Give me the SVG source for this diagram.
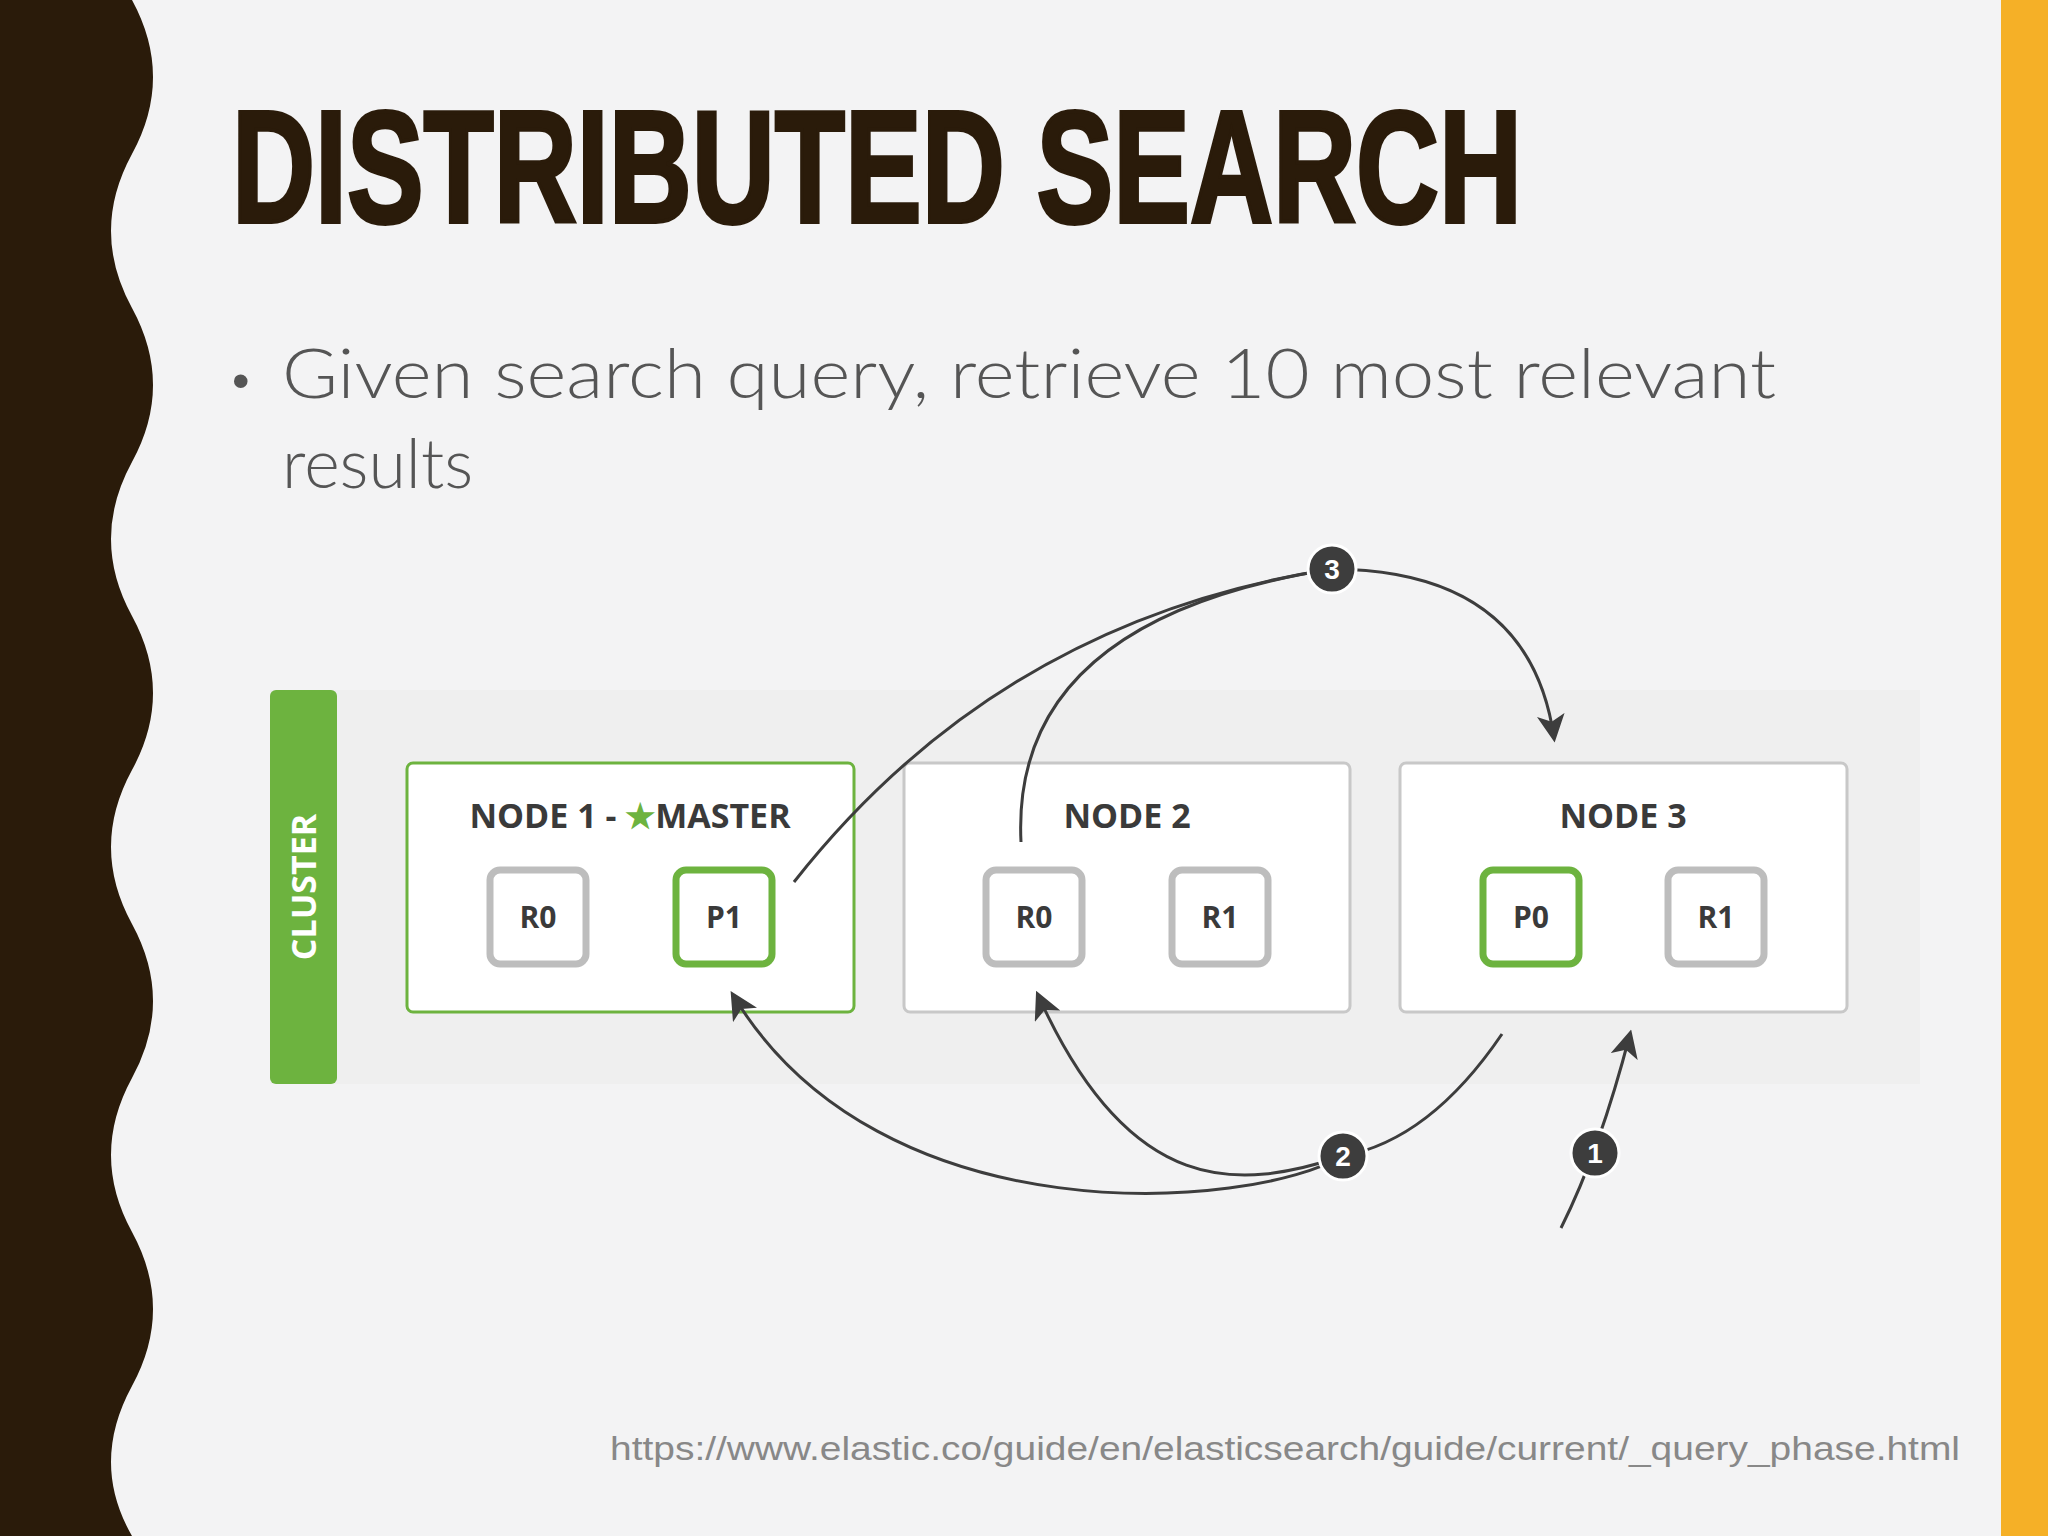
<svg xmlns="http://www.w3.org/2000/svg" width="2048" height="1536" viewBox="0 0 2048 1536">
<defs>
<style>
.node{fill:#fff;stroke:#c8c8c8;stroke-width:3}
.lbl{font-family:"Open Sans","Liberation Sans",sans-serif;font-weight:bold;font-size:34px;fill:#3a3a3a;text-anchor:middle}
.sh{fill:#fff;stroke:#bdbdbd;stroke-width:7}
.shp{fill:#fff;stroke:#6db33f;stroke-width:7}
.st{font-family:"Open Sans","Liberation Sans",sans-serif;font-weight:bold;font-size:30px;fill:#3a3a3a;text-anchor:middle}
.c{fill:none;stroke:#3d3d3d;stroke-width:3}
.num{font-family:"Liberation Sans",sans-serif;font-weight:bold;font-size:28px;fill:#fff;text-anchor:middle}
</style>
<marker id="ah" viewBox="0 0 12 12" refX="10" refY="6" markerWidth="28" markerHeight="28" orient="auto" markerUnits="userSpaceOnUse"><path d="M0,0 L12,6 L0,12 L3,6 Z" fill="#3d3d3d"/></marker>
</defs>
<rect width="2048" height="1536" fill="#f3f3f4"/>
<rect x="2001" y="0" width="47" height="1536" fill="#f5b027"/>
<path d="M0,0 H132 Q174,77 132,154 Q90,231 132,308 Q174,385 132,462 Q90,539 132,616 Q174,693 132,770 Q90,847 132,924 Q174,1001 132,1078 Q90,1155 132,1232 Q174,1309 132,1386 Q90,1463 132,1536 H0 Z" fill="#2a1b0a"/>
<text x="232" y="222" font-family="Liberation Sans,sans-serif" font-weight="bold" font-size="160" fill="#2a1b0a" stroke="#2a1b0a" stroke-width="4" textLength="1290" lengthAdjust="spacingAndGlyphs">DISTRIBUTED SEARCH</text>
<text x="232" y="398" font-family="Liberation Sans,sans-serif" font-size="50" fill="#555">•</text>
<text x="282" y="398" font-family="Lato,Liberation Sans,sans-serif" font-weight="300" font-size="68" fill="#555" textLength="1494" lengthAdjust="spacingAndGlyphs">Given search query, retrieve 10 most relevant</text>
<text x="282" y="488" font-family="Lato,Liberation Sans,sans-serif" font-weight="300" font-size="68" fill="#555">results</text>
<g id="cluster">
<rect x="270" y="690" width="1650" height="394" fill="#efefef"/>
<rect x="270" y="690" width="67" height="394" rx="6" fill="#6db33f"/>
<text transform="translate(316,887) rotate(-90)" font-family="Open Sans,Liberation Sans,sans-serif" font-weight="bold" font-size="34" fill="#fff" text-anchor="middle">CLUSTER</text>
</g>
<g id="node1">
<rect x="407" y="763" width="447" height="249" rx="6" class="node" style="stroke:#6db33f"/>
<text x="630" y="828" class="lbl">NODE 1 - <tspan fill="#6db33f">★</tspan>MASTER</text>
<rect x="490" y="870" width="96" height="94" rx="10" class="sh"/><text x="538" y="928" class="st">R0</text>
<rect x="676" y="870" width="96" height="94" rx="10" class="shp"/><text x="724" y="928" class="st">P1</text>
</g>
<g id="node2">
<rect x="904" y="763" width="446" height="249" rx="6" class="node"/>
<text x="1127" y="828" class="lbl">NODE 2</text>
<rect x="986" y="870" width="96" height="94" rx="10" class="sh"/><text x="1034" y="928" class="st">R0</text>
<rect x="1172" y="870" width="96" height="94" rx="10" class="sh"/><text x="1220" y="928" class="st">R1</text>
</g>
<g id="node3">
<rect x="1400" y="763" width="447" height="249" rx="6" class="node"/>
<text x="1623" y="828" class="lbl">NODE 3</text>
<rect x="1483" y="870" width="96" height="94" rx="10" class="shp"/><text x="1531" y="928" class="st">P0</text>
<rect x="1668" y="870" width="96" height="94" rx="10" class="sh"/><text x="1716" y="928" class="st">R1</text>
</g>
<g id="connectors">
<path class="c" d="M1561,1228 Q1600,1150 1630,1034" marker-end="url(#ah)"/>
<path class="c" d="M1502,1034 Q1430,1140 1343,1156"/>
<path class="c" d="M1343,1156 C1250,1210 880,1240 733,995" marker-end="url(#ah)"/>
<path class="c" d="M1343,1156 C1240,1190 1130,1200 1038,995" marker-end="url(#ah)"/>
<path class="c" d="M794,882 Q1000,620 1332,569"/>
<path class="c" d="M1021,842 Q1010,620 1332,569"/>
<path class="c" d="M1332,569 Q1530,570 1554,738" marker-end="url(#ah)"/>
</g>
<g id="badges">
<circle cx="1332" cy="569" r="24" fill="#3d3d3d" stroke="#fff" stroke-width="3"/><text x="1332" y="579" class="num">3</text>
<circle cx="1343" cy="1156" r="24" fill="#3d3d3d" stroke="#fff" stroke-width="3"/><text x="1343" y="1166" class="num">2</text>
<circle cx="1595" cy="1153" r="24" fill="#3d3d3d" stroke="#fff" stroke-width="3"/><text x="1595" y="1163" class="num">1</text>
</g>
<text x="1960" y="1460" font-family="Liberation Sans,sans-serif" font-size="33" fill="#888" text-anchor="end" textLength="1350" lengthAdjust="spacingAndGlyphs">https://www.elastic.co/guide/en/elasticsearch/guide/current/_query_phase.html</text>
</svg>
